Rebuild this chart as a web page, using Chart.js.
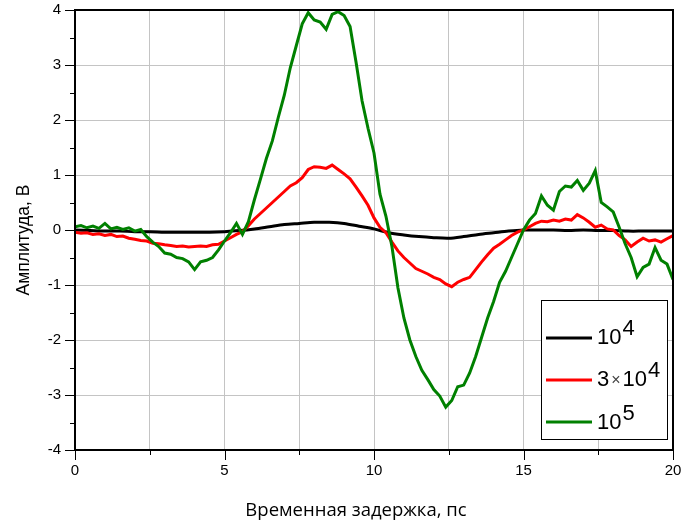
<!DOCTYPE html>
<html>
<head>
<meta charset="utf-8">
<script src="https://cdn.jsdelivr.net/npm/chart.js@4.4.1/dist/chart.umd.min.js"></script>
<style>
  html, body { margin: 0; padding: 0; background: #fff; }
</style>
</head>
<body>
<canvas id="grafica" width="694" height="523"></canvas>
<script>
// Временная задержка, пс: шаг 0.2 для шумных кривых, 0.5 для гладкой
const pasoFino = 0.2;
const pasoGrueso = 0.5;

// 10^4 (negra)
const amp1e4 = [0.0, -0.01, -0.02, -0.02, -0.03, -0.03, -0.04, -0.04, -0.04, -0.04,
  -0.03, -0.01, 0.02, 0.06, 0.10, 0.12, 0.14, 0.14, 0.12, 0.07,
  0.02, -0.05, -0.09, -0.12, -0.14, -0.15, -0.12, -0.08, -0.05, -0.02,
  0.0, 0.0, 0.0, -0.01, 0.0, -0.01, -0.01, -0.02, -0.02, -0.02, -0.02];

// 3x10^4 (roja)
const amp3e4 = [-0.04, -0.06, -0.05, -0.08, -0.07, -0.10, -0.08, -0.12, -0.11, -0.15,
  -0.17, -0.19, -0.20, -0.24, -0.25, -0.27, -0.28, -0.30, -0.29, -0.31,
  -0.30, -0.29, -0.30, -0.27, -0.26, -0.20, -0.14, -0.08, -0.03, 0.08,
  0.20, 0.30, 0.40, 0.50, 0.60, 0.70, 0.80, 0.86, 0.95, 1.10,
  1.15, 1.14, 1.12, 1.18, 1.10, 1.02, 0.93, 0.78, 0.62, 0.45,
  0.22, 0.05, -0.05, -0.22, -0.38, -0.50, -0.60, -0.70, -0.75, -0.80,
  -0.86, -0.90, -0.98, -1.03, -0.95, -0.90, -0.86, -0.72, -0.58, -0.45,
  -0.33, -0.26, -0.18, -0.10, -0.04, 0.0, 0.06, 0.12, 0.16, 0.15,
  0.18, 0.16, 0.20, 0.18, 0.28, 0.22, 0.14, 0.05, 0.09, 0.02,
  0.0, -0.10, -0.18, -0.30, -0.22, -0.15, -0.20, -0.18, -0.22, -0.16, -0.10];

// 10^5 (verde)
const amp1e5 = [0.06, 0.08, 0.04, 0.07, 0.03, 0.12, 0.02, 0.05, 0.01, 0.04,
  -0.02, 0.01, -0.12, -0.22, -0.30, -0.42, -0.44, -0.50, -0.52, -0.58,
  -0.72, -0.58, -0.55, -0.50, -0.36, -0.20, -0.05, 0.12, -0.08, 0.15,
  0.55, 0.92, 1.30, 1.62, 2.05, 2.45, 2.95, 3.35, 3.75, 3.95,
  3.82, 3.78, 3.65, 3.92, 3.97, 3.90, 3.70, 3.05, 2.35, 1.85,
  1.40, 0.65, 0.25, -0.30, -1.05, -1.60, -2.00, -2.30, -2.55, -2.72,
  -2.90, -3.02, -3.22, -3.10, -2.85, -2.82, -2.60, -2.30, -1.95, -1.60,
  -1.30, -0.95, -0.75, -0.50, -0.25, 0.0, 0.18, 0.30, 0.62, 0.45,
  0.36, 0.70, 0.80, 0.78, 0.90, 0.72, 0.85, 1.08, 0.50, 0.42,
  0.33, 0.05, -0.25, -0.50, -0.85, -0.68, -0.62, -0.32, -0.55, -0.62, -0.90];

// leyenda: [texto, tipo] 0 normal, 1 superíndice, 2 signo de multiplicar
const leyenda = [
  [['10', 0], ['4', 1]],
  [['3', 0], ['×', 2], ['10', 0], ['4', 1]],
  [['10', 0], ['5', 1]]
];
const colores = ['#000000', '#ff0000', '#008000'];

const aPuntos = (valores, paso) => valores.map((v, i) => ({ x: +(i * paso).toFixed(2), y: v }));

const marcoEjes = {
  id: 'marcoEjes',
  afterDatasetsDraw(chart) {
    const { ctx, chartArea: a, scales: { x, y } } = chart;
    ctx.save();
    ctx.strokeStyle = '#000';
    ctx.lineWidth = 1;
    // marcas del eje Y (fuera, a la izquierda)
    y.ticks.forEach(t => {
      const py = Math.round(y.getPixelForValue(t.value)) + 0.5;
      const largo = Number.isInteger(t.value) ? 10 : 5;
      ctx.beginPath(); ctx.moveTo(a.left - largo, py); ctx.lineTo(a.left, py); ctx.stroke();
    });
    // marcas del eje X (hacia abajo)
    x.ticks.forEach(t => {
      const px = Math.round(x.getPixelForValue(t.value)) + 0.5;
      const largo = t.value % 5 === 0 ? 10 : 5;
      ctx.beginPath(); ctx.moveTo(px, a.bottom); ctx.lineTo(px, a.bottom + largo); ctx.stroke();
    });
    // marco
    ctx.lineWidth = 2;
    ctx.strokeRect(a.left, a.top, a.right - a.left, a.bottom - a.top);

    // títulos de ejes
    ctx.fillStyle = '#000';
    ctx.font = '18.5px "Open Sans"';
    ctx.textAlign = 'center';
    ctx.textBaseline = 'alphabetic';
    ctx.fillText('Временная задержка, пс', 356, 516);
    ctx.save();
    ctx.translate(29, 240);
    ctx.rotate(-Math.PI / 2);
    ctx.font = '17.5px "Liberation Sans"';
    ctx.fillText('Амплитуда, В', 0, 0);
    ctx.restore();

    // leyenda
    ctx.fillStyle = '#fff';
    ctx.fillRect(541, 300, 126, 139);
    ctx.lineWidth = 1;
    ctx.strokeStyle = '#000';
    ctx.strokeRect(541.5, 300.5, 126, 139);
    const filas = [338, 380, 422];
    const bases = [344, 386, 429];
    leyenda.forEach((partes, i) => {
      ctx.strokeStyle = colores[i];
      ctx.lineWidth = 3;
      ctx.beginPath(); ctx.moveTo(546, filas[i]); ctx.lineTo(592, filas[i]); ctx.stroke();
      let px = 597;
      ctx.fillStyle = '#000';
      ctx.textAlign = 'left';
      partes.forEach(([txt, tipo]) => {
        let dy = 0;
        if (tipo === 0) ctx.font = '22px "Liberation Sans"';
        else if (tipo === 1) { ctx.font = '22px "Liberation Sans"'; dy = -9; px += 1; }
        else { ctx.font = '16px "Liberation Sans"'; px += 2; dy = -1; }
        ctx.fillStyle = tipo === 2 ? '#444' : '#000';
        ctx.fillText(txt, px, bases[i] + dy);
        px += ctx.measureText(txt).width + (tipo === 2 ? 2 : 0);
      });
    });
    ctx.restore();
  }
};

const ctxGrafica = document.getElementById('grafica').getContext('2d');
const grafica = new Chart(ctxGrafica, {
  type: 'line',
  data: {
    datasets: [
      { label: '10^4', data: aPuntos(amp1e4, pasoGrueso), borderColor: colores[0], borderWidth: 3, tension: 0.3, order: 3 },
      { label: '3x10^4', data: aPuntos(amp3e4, pasoFino), borderColor: colores[1], borderWidth: 3, order: 2 },
      { label: '10^5', data: aPuntos(amp1e5, pasoFino), borderColor: colores[2], borderWidth: 3, order: 1 }
    ]
  },
  options: {
    responsive: false,
    animation: false,
    elements: { point: { radius: 0 }, line: { tension: 0, fill: false } },
    layout: { padding: { top: 10, right: 21, left: 0, bottom: 0 } },
    plugins: { legend: { display: false }, tooltip: { enabled: false } },
    scales: {
      x: {
        type: 'linear',
        min: 0, max: 20,
        border: { display: false },
        grid: { color: '#c4c4c4', lineWidth: 1, drawTicks: false },
        ticks: {
          stepSize: 2.5,
          padding: 12,
          color: '#000',
          font: { family: '"Liberation Sans", Arial', size: 15 },
          maxRotation: 0,
          autoSkip: false,
          callback: v => (v % 5 === 0 ? v : '')
        },
        afterFit: s => { s.height = 73; s.paddingLeft = 0; s.paddingRight = 0; }
      },
      y: {
        min: -4, max: 4,
        border: { display: false },
        grid: {
          color: c => (Number.isInteger(c.tick.value) ? '#c4c4c4' : 'rgba(0,0,0,0)'),
          lineWidth: 1,
          drawTicks: false
        },
        ticks: {
          stepSize: 0.5,
          padding: 14,
          color: '#000',
          font: { family: '"Liberation Sans", Arial', size: 15 },
          autoSkip: false,
          callback: v => (Number.isInteger(v) ? v : '')
        },
        afterFit: s => { s.width = 75; s.paddingTop = 0; s.paddingBottom = 0; }
      }
    }
  },
  plugins: [marcoEjes]
});
</script>
</body>
</html>
